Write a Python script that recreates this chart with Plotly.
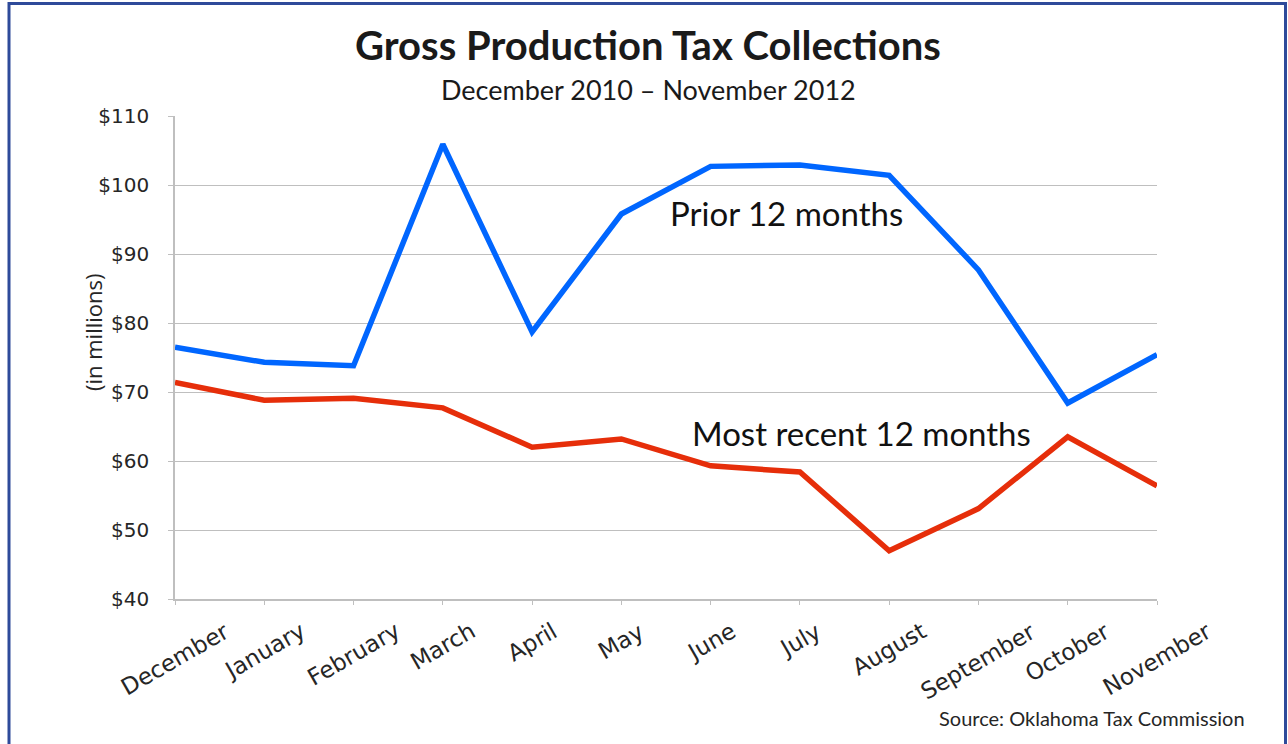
import plotly.graph_objects as go

months = ["December", "January", "February", "March", "April", "May", "June",
          "July", "August", "September", "October", "November"]
prior_12 = [76.5, 74.3, 73.8, 105.9, 78.7, 95.8, 102.7, 102.9, 101.4, 87.7, 68.4, 75.4]
recent_12 = [71.4, 68.8, 69.1, 67.7, 62.0, 63.2, 59.3, 58.4, 47.0, 53.1, 63.5, 56.4]
y_ticks = [40, 50, 60, 70, 80, 90, 100, 110]
y_tick_text = ["$40", "$50", "$60", "$70", "$80", "$90", "$100", "$110"]

W, H = 1288, 744
L, R, T, B = 175, 1157, 116, 599
PW, PH = R - L, B - T

def px(x):
    return (x - L) / PW

def py(y):
    return (B - y) / PH

FONT = "Lato, 'Open Sans', sans-serif"
WIDE = "'DejaVu Sans', sans-serif"
TXT = "#262626"

idx = list(range(len(months)))

fig = go.Figure()
fig.add_trace(go.Scatter(x=idx, y=prior_12, mode="lines",
                         line=dict(color="#0066ff", width=5.5), showlegend=False))
fig.add_trace(go.Scatter(x=idx, y=recent_12, mode="lines",
                         line=dict(color="#e62e0a", width=5.5), showlegend=False))

annotations = []
for i, m in enumerate(months):
    annotations.append(dict(x=i, xref="x", y=0, yref="paper", yshift=-16,
                            text=m, showarrow=False, textangle=-30,
                            xanchor="center", yanchor="top",
                            font=dict(family=WIDE, size=23, color=TXT)))

annotations += [
    dict(x=px(648), y=py(45.5), xref="paper", yref="paper",
         text="<b>Gross Production Tax Collections</b>", showarrow=False,
         xanchor="center", yanchor="middle",
         font=dict(family=FONT, size=40, color="#1a1a1a")),
    dict(x=px(648), y=py(89), xref="paper", yref="paper",
         text="December 2010 \u2013 November 2012", showarrow=False,
         xanchor="center", yanchor="middle",
         font=dict(family=FONT, size=27, color="#1a1a1a")),
    dict(x=px(93), y=py(332), xref="paper", yref="paper",
         text="(in millions)", showarrow=False, textangle=-90,
         xanchor="center", yanchor="middle",
         font=dict(family="'Open Sans', sans-serif", size=22, color=TXT)),
    dict(x=px(786), y=py(213), xref="paper", yref="paper",
         text="Prior 12 months", showarrow=False,
         xanchor="center", yanchor="middle",
         font=dict(family=FONT, size=33, color="#111111")),
    dict(x=px(861), y=py(433), xref="paper", yref="paper",
         text="Most recent 12 months", showarrow=False,
         xanchor="center", yanchor="middle",
         font=dict(family=FONT, size=33, color="#111111")),
    dict(x=px(1247), y=py(718), xref="paper", yref="paper",
         text="Source: Oklahoma Tax Commission", showarrow=False,
         xanchor="right", yanchor="middle",
         font=dict(family=FONT, size=20, color=TXT)),
]

shapes = [
    dict(type="rect", xref="paper", yref="paper",
         x0=px(9), x1=px(1285.5), y0=py(3.5), y1=py(760),
         line=dict(color="#2e4a9a", width=3), fillcolor="rgba(0,0,0,0)", layer="above"),
]

fig.update_layout(
    width=W, height=H,
    margin=dict(l=L, r=W - R, t=T, b=H - B),
    paper_bgcolor="white", plot_bgcolor="white",
    annotations=annotations, shapes=shapes,
    xaxis=dict(range=[0, len(months) - 1], tickmode="array", tickvals=idx,
               showticklabels=False, ticks="outside", ticklen=4, tickcolor="#bfbfbf",
               showgrid=False, zeroline=False, showline=True, linecolor="#bfbfbf",
               linewidth=1.5, fixedrange=True),
    yaxis=dict(range=[40, 110], tickmode="array", tickvals=y_ticks, ticktext=y_tick_text,
               ticks="outside", ticklen=5, tickcolor="#bfbfbf",
               showgrid=True, gridcolor="#bfbfbf", gridwidth=1.2, zeroline=False,
               showline=True, linecolor="#bfbfbf", linewidth=1.5,
               tickfont=dict(family=WIDE, size=20, color=TXT), ticklabelstandoff=15,
               fixedrange=True),
)

fig.write_html("out.html", config={"displayModeBar": False},
               post_script="document.body.style.margin='0';document.body.style.overflow='hidden';")
